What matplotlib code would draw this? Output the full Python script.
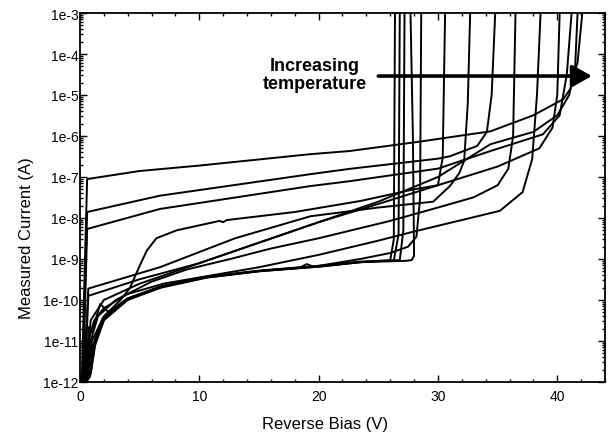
import math
import matplotlib
matplotlib.use("Agg")
import matplotlib.pyplot as plt
from matplotlib.ticker import FuncFormatter, LogLocator, MultipleLocator, NullFormatter

plt.rcParams['font.family'] = ['Liberation Sans', 'DejaVu Sans']

# ---- sweeps: reverse bias (V) and current (A) ----
# low temperature sweeps (the thick bundle, breakdown ~26-28 V)
v_b1 = [0.45, 0.8, 1.1, 1.9, 3.9, 6.7, 10.6, 15, 20, 23.5, 26.0, 26.3, 26.4]
i_b1 = [1e-12, 1.3e-12, 8e-12, 3.5e-11, 1.05e-10, 2.1e-10, 3.6e-10, 5.1e-10, 6.6e-10, 8.5e-10, 9.3e-10, 3e-9, 1e-3]

v_b2 = [0.5, 0.9, 1.2, 2.0, 4.0, 6.8, 10.6, 15, 20, 23.5, 26.3, 26.7, 26.8]
i_b2 = [1e-12, 1.6e-12, 7e-12, 3.2e-11, 1e-10, 2e-10, 3.5e-10, 5e-10, 6.5e-10, 8.3e-10, 9.2e-10, 4e-9, 1e-3]

v_b3 = [0.55, 0.95, 1.3, 2.1, 4.1, 7, 10.6, 15, 18.5, 19, 19.5, 23.5, 26.8, 27.1, 27.2]
i_b3 = [1e-12, 2e-12, 9e-12, 3.8e-11, 1.1e-10, 2.2e-10, 3.7e-10, 5.2e-10, 6.3e-10, 7.5e-10, 6.6e-10, 8.6e-10, 9.4e-10, 5e-9, 1e-3]

v_b4 = [0.5, 0.85, 1.15, 1.9, 3.9, 6.7, 10.6, 15, 20, 23.5, 27.3, 27.8, 28.0, 27.9, 27.7]
i_b4 = [1e-12, 1.4e-12, 8.5e-12, 3.4e-11, 1e-10, 2.05e-10, 3.55e-10, 5.05e-10, 6.5e-10, 8.4e-10, 9e-10, 9.4e-10, 1.2e-9, 1e-6, 1e-3]

v_b5 = [0.4, 0.6, 0.75, 1.0, 1.7, 2.4, 4, 6.7, 10.6, 15, 20, 23.5, 26, 27.5, 28.2, 28.5, 28.6]
i_b5 = [1e-12, 5e-12, 2.2e-11, 1.6e-11, 8e-11, 5e-11, 1.1e-10, 2.1e-10, 3.6e-10, 5.1e-10, 6.8e-10, 1e-9, 1.4e-9, 2e-9, 3.5e-9, 3e-8, 1e-3]

# mid temperature sweeps
v_s = [0.6, 1.0, 2.0, 3.4, 4.2, 5.0, 5.6, 6.4, 8.1, 11.7, 12.0, 12.3, 18, 23.5, 28, 30.0, 30.4, 30.6]
i_s = [1e-12, 1e-11, 4e-11, 1e-10, 2e-10, 6.8e-10, 1.6e-9, 3.2e-9, 5e-9, 8.5e-9, 7.9e-9, 8.9e-9, 1.4e-8, 2.6e-8, 5e-8, 6.3e-8, 3e-7, 1e-3]

v_d = [0.3, 0.7, 6.7, 13, 19.3, 25, 29.6, 31, 31.8, 32.2, 32.5, 32.7]
i_d = [1e-12, 1.9e-10, 6.3e-10, 3.2e-9, 1.1e-8, 1.8e-8, 2.5e-8, 6e-8, 1.26e-7, 2.5e-7, 6.3e-6, 1e-3]

v_bb = [0.2, 0.6, 6.7, 19.3, 22.6, 30, 31, 33.3, 34.1, 34.5, 34.8]
i_bb = [1e-12, 1.4e-8, 3.5e-8, 1.17e-7, 1.58e-7, 2.8e-7, 3.2e-7, 5.75e-7, 1.26e-6, 1e-5, 1e-3]

v_m4 = [0.5, 0.9, 1.5, 3, 6, 9, 12.6, 16, 20, 26, 30, 33, 35, 35.9, 36.3, 36.5]
i_m4 = [1e-12, 1e-11, 4e-11, 1e-10, 2.8e-10, 5.6e-10, 1e-9, 1.8e-9, 3.2e-9, 8.5e-9, 1.8e-8, 3.2e-8, 6.3e-8, 1.6e-7, 1e-6, 1e-3]

v_l = [0.5, 0.8, 1.2, 2, 4, 7, 10.6, 15, 20, 25, 27.9, 32.4, 35.2, 37.1, 37.9, 38.3, 38.6]
i_l = [1e-12, 1.26e-11, 3.2e-11, 6.3e-11, 1.4e-10, 2.5e-10, 3.8e-10, 6.3e-10, 1.26e-9, 2.8e-9, 4.6e-9, 9.5e-9, 1.5e-8, 4.3e-8, 2.75e-7, 1e-5, 1e-3]

# high temperature sweeps
v_h2 = [0.5, 0.9, 2, 5, 10, 15, 20, 25, 30, 35, 38.5, 39.6, 40.0, 40.2]
i_h2 = [1e-12, 3.2e-11, 1e-10, 2.5e-10, 7.9e-10, 2.5e-9, 7.9e-9, 2.2e-8, 6.3e-8, 1.8e-7, 5e-7, 1.6e-6, 1e-5, 1e-3]

v_c = [0.25, 0.6, 6.7, 19.3, 22.6, 30, 34.4, 38.8, 40.2, 40.8, 41.2]
i_c = [1e-12, 5.4e-9, 1.66e-8, 6e-8, 7.9e-8, 1.6e-7, 4.3e-7, 1.1e-6, 3.2e-6, 3.2e-5, 1e-3]

v_h1 = [0.4, 0.7, 5, 10, 15, 20, 25, 30, 34.4, 38, 40, 41, 41.5, 41.7]
i_h1 = [1e-12, 1.26e-10, 3.2e-10, 7.9e-10, 2.5e-9, 7.9e-9, 2.5e-8, 1e-7, 6.3e-7, 1.26e-6, 3.2e-6, 1e-5, 5e-5, 1e-3]

v_a = [0.15, 0.6, 5, 10, 19.3, 22.6, 28.2, 34.4, 38, 40.5, 41.1, 41.7, 42.1]
i_a = [1e-12, 8.9e-8, 1.4e-7, 1.9e-7, 3.6e-7, 4.3e-7, 7.1e-7, 1.3e-6, 3.2e-6, 7.9e-6, 1.4e-5, 6.3e-5, 1e-3]

sweeps = [(v_b1, i_b1), (v_b2, i_b2), (v_b3, i_b3), (v_b4, i_b4), (v_b5, i_b5),
          (v_s, i_s), (v_d, i_d), (v_bb, i_bb), (v_m4, i_m4), (v_l, i_l),
          (v_h2, i_h2), (v_c, i_c), (v_h1, i_h1), (v_a, i_a)]

fig = plt.figure(figsize=(6.1, 4.39), dpi=100)
ax = fig.add_axes([0.1311, 0.1276, 0.8607, 0.8405])

for v, i in sweeps:
    ax.plot(v, i, color='black', lw=1.4, solid_joinstyle='round')

ax.set_yscale('log')
ax.set_xlim(0, 44)
ax.set_ylim(1e-12, 1e-3)

ax.xaxis.set_major_locator(MultipleLocator(10))
ax.xaxis.set_minor_locator(MultipleLocator(2))
ax.yaxis.set_major_locator(LogLocator(base=10, numticks=20))
ax.yaxis.set_minor_locator(LogLocator(base=10, subs=range(2, 10), numticks=20))
ax.yaxis.set_minor_formatter(NullFormatter())
ax.yaxis.set_major_formatter(FuncFormatter(lambda y, p: "1e%d" % round(math.log10(y))))

ax.tick_params(which='both', direction='in', top=True, right=True, width=1, color='black')
ax.tick_params(which='major', length=5)
ax.tick_params(which='minor', length=2.5)
ax.tick_params(axis='x', which='major', labelsize=10, pad=5)
ax.tick_params(axis='y', which='major', labelsize=10, pad=1)
for s in ax.spines.values():
    s.set_linewidth(1.3)

fig.text(325.5 / 610, 1 - 425 / 439, "Reverse Bias (V)", ha='center', va='center', fontsize=12)
fig.text(27 / 610, 1 - 238 / 439, "Measured Current (A)", ha='center', va='center',
         rotation=90, fontsize=12)

ax.text(19.7, 3.2e-5, "Increasing\ntemperature", ha='center', va='center',
        fontsize=13, fontweight='bold', linespacing=1.05)
ax.annotate('', xy=(42.9, 2.9e-5), xytext=(25.0, 2.9e-5),
            arrowprops=dict(arrowstyle='-|>,head_length=0.8,head_width=0.45',
                            mutation_scale=15, lw=2.6, color='black',
                            shrinkA=0, shrinkB=0))

fig.savefig("out.png", dpi=100)
